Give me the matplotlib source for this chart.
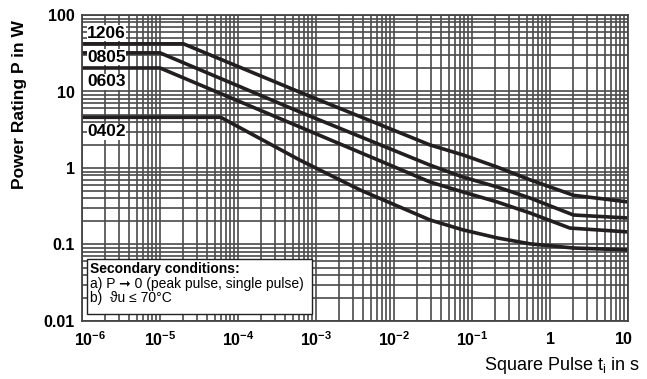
import numpy as np
import matplotlib
matplotlib.use("Agg")
import matplotlib.pyplot as plt
import matplotlib.transforms as mtrans
from matplotlib.ticker import LogLocator, NullFormatter

plt.rcParams['font.family'] = ['Liberation Sans', 'DejaVu Sans']
plt.rcParams['mathtext.fontset'] = 'custom'
plt.rcParams['mathtext.rm'] = 'Liberation Sans:bold'
plt.rcParams['mathtext.bf'] = 'Liberation Sans:bold'

# pulse duration (s) and power rating (W)
t_1206 = [1e-6, 2e-5, 6.2e-4, 0.029, 0.077, 0.21, 0.555, 2.0, 10]
p_1206 = [42, 42, 9.8, 2.0, 1.48, 1.03, 0.70, 0.44, 0.36]

t_0805 = [1e-6, 1e-5, 6.2e-4, 0.029, 0.077, 0.21, 0.555, 2.0, 10]
p_0805 = [32, 32, 5.4, 1.09, 0.76, 0.565, 0.405, 0.243, 0.222]

t_0603 = [1e-6, 1e-5, 6.2e-4, 0.029, 0.077, 0.21, 0.555, 1.8, 10]
p_0603 = [20.3, 20.3, 3.44, 0.656, 0.485, 0.36, 0.258, 0.164, 0.146]

t_0402 = [1e-6, 6e-5, 6.2e-4, 3.7e-3, 0.029, 0.077, 0.21, 0.555, 2.0, 10]
p_0402 = [4.6, 4.6, 1.27, 0.515, 0.209, 0.155, 0.122, 0.102, 0.09, 0.085]

series = [("1206", t_1206, p_1206), ("0805", t_0805, p_0805),
          ("0603", t_0603, p_0603), ("0402", t_0402, p_0402)]

x_ticks = [1e-6, 1e-5, 1e-4, 1e-3, 1e-2, 1e-1, 1, 10]
x_labels = [r'$10^{-6}$', r'$10^{-5}$', r'$10^{-4}$', r'$10^{-3}$',
            r'$10^{-2}$', r'$10^{-1}$', r'$1$', r'$10$']
y_ticks = [0.01, 0.1, 1, 10, 100]
y_labels = ['0.01', '0.1', '1', '10', '100']

fig = plt.figure(figsize=(6.47, 3.79), dpi=100)
ax = fig.add_axes([82/647, 1-321/379, (628-82)/647, (321-15)/379])

ax.set_xscale('log')
ax.set_yscale('log')
ax.set_xlim(1e-6, 10)
ax.set_ylim(0.01, 100)

ax.xaxis.set_minor_locator(LogLocator(base=10, subs=np.arange(2, 10)))
ax.yaxis.set_minor_locator(LogLocator(base=10, subs=np.arange(2, 10)))
ax.xaxis.set_minor_formatter(NullFormatter())
ax.yaxis.set_minor_formatter(NullFormatter())
ax.grid(True, which='both', color='#4a4a4a', linewidth=1.2)
ax.set_axisbelow(True)

ax.set_xticks(x_ticks)
ax.set_xticklabels(x_labels, fontsize=11.5)
ax.set_yticks(y_ticks)
ax.set_yticklabels(y_labels, fontsize=11.5, fontweight='bold')
ax.tick_params(which='both', length=0)
ax.tick_params(axis='x', pad=7)
ax.tick_params(axis='y', pad=5)

# first and last x labels sit a little inside, as in the datasheet
xl = ax.get_xticklabels()
xl[0].set_transform(xl[0].get_transform() + mtrans.ScaledTranslation(8/100, 0, fig.dpi_scale_trans))
xl[-1].set_transform(xl[-1].get_transform() + mtrans.ScaledTranslation(-4/100, 0, fig.dpi_scale_trans))

for sp in ax.spines.values():
    sp.set_color('#444444')
    sp.set_linewidth(1.3)

for name, t, p in series:
    ax.plot(t, p, color='#231f20', linewidth=2.6, solid_capstyle='butt')

# curve labels with white boxes
label_pos = {"1206": 33, "0805": 57, "0603": 82, "0402": 132}
for name, ypix in label_pos.items():
    fig.text(87/647, 1-ypix/379, name, fontsize=12.5, fontweight='bold',
             va='center', ha='left',
             bbox=dict(facecolor='white', edgecolor='none', pad=0.3))

# secondary conditions box
box = plt.Rectangle((87/647, 1-314/379), (312-87)/647, (314-259)/379,
                    transform=fig.transFigure, facecolor='white',
                    edgecolor='#222222', linewidth=1.0, zorder=5)
fig.add_artist(box)
fig.text(90/647, 1-269/379, "Secondary conditions:", fontsize=10,
         fontweight='bold', va='center', ha='left', zorder=6)
fig.text(90/647, 1-284/379, "a) P \u279e 0 (peak pulse, single pulse)",
         fontsize=10, va='center', ha='left', zorder=6)
fig.text(90/647, 1-298/379, "b)  \u03d1u \u2264 70\u00b0C",
         fontsize=10, va='center', ha='left', zorder=6)

fig.text(20/647, 1-105/379, "Power Rating P in W", rotation=90,
         fontsize=12.5, fontweight='bold', va='center', ha='center')
fig.text(640/647, 1-365/379, r"Square Pulse t$_{\mathregular{i}}$ in s",
         fontsize=13, va='center', ha='right')

fig.savefig("out.png", dpi=100)
